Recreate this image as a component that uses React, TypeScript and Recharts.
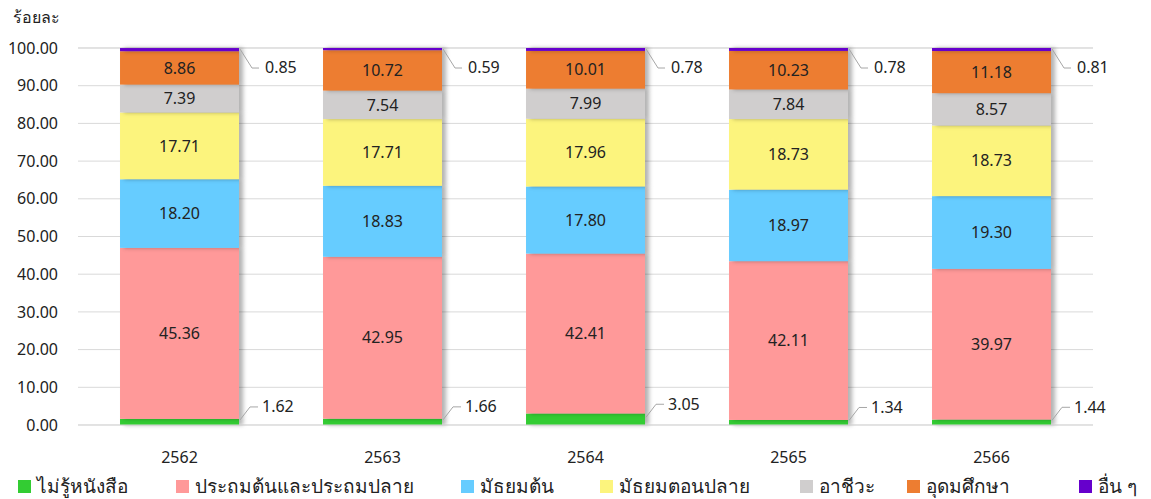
import React from 'react';
import {
  BarChart,
  Bar,
  XAxis,
  YAxis,
  CartesianGrid,
  LabelList
} from 'recharts';

const years = ['2562', '2563', '2564', '2565', '2566'];
const illiterate = [1.62, 1.66, 3.05, 1.34, 1.44];
const primary = [45.36, 42.95, 42.41, 42.11, 39.97];
const lowerSecondary = [18.2, 18.83, 17.8, 18.97, 19.3];
const upperSecondary = [17.71, 17.71, 17.96, 18.73, 18.73];
const vocational = [7.39, 7.54, 7.99, 7.84, 8.57];
const higherEd = [8.86, 10.72, 10.01, 10.23, 11.18];
const others = [0.85, 0.59, 0.78, 0.78, 0.81];
const yTicks = [0, 10, 20, 30, 40, 50, 60, 70, 80, 90, 100];

const series = [
  { key: 'illiterate', name: 'ไม่รู้หนังสือ', color: '#33CC33', values: illiterate },
  { key: 'primary', name: 'ประถมต้นและประถมปลาย', color: '#FF9999', values: primary },
  { key: 'lowerSecondary', name: 'มัธยมต้น', color: '#66CCFF', values: lowerSecondary },
  { key: 'upperSecondary', name: 'มัธยมตอนปลาย', color: '#FCF47D', values: upperSecondary },
  { key: 'vocational', name: 'อาชีวะ', color: '#D0CECE', values: vocational },
  { key: 'higherEd', name: 'อุดมศึกษา', color: '#ED7D31', values: higherEd },
  { key: 'others', name: 'อื่น ๆ', color: '#6600CC', values: others },
];

// legend swatch x positions in the original layout
const legendX = [18, 176, 461, 600, 800, 907, 1079];

const data = years.map((year, i) => {
  const row: Record<string, string | number> = { year };
  series.forEach((s) => {
    row[s.key] = s.values[i];
  });
  return row;
});

const FONT = "Tahoma, 'Noto Sans', sans-serif";

const ShadowBar = (props: any) => {
  const { x, y, width, height, fill } = props;
  return (
    <rect
      x={x}
      y={y}
      width={width}
      height={height}
      fill={fill}
      style={{ filter: 'drop-shadow(4px 0px 2px rgba(0,0,0,0.3))' }}
    />
  );
};

// callout label pointing down-right from the top of the bar (อื่น ๆ)
const TopCallout = (props: any) => {
  const { x, y, width, value } = props;
  const x0 = x + width + 1;
  const y0 = y + 1;
  return (
    <g>
      <polyline
        points={`${x0},${y0} ${x0 + 12},${y0 + 19} ${x0 + 19},${y0 + 19}`}
        fill="none"
        stroke="#A6A6A6"
        strokeWidth={1}
      />
      <text x={x0 + 25} y={y0 + 20} fontSize={16} fill="#222" dominantBaseline="middle" fontFamily={FONT}>
        {Number(value).toFixed(2)}
      </text>
    </g>
  );
};

// callout label pointing up-right from the bottom segment (ไม่รู้หนังสือ)
const BottomCallout = (props: any) => {
  const { x, y, width, height, value } = props;
  const x0 = x + width + 1;
  const y0 = y + height / 2 - 2;
  return (
    <g>
      <polyline
        points={`${x0},${y0} ${x0 + 10},${y0 - 13} ${x0 + 18},${y0 - 13}`}
        fill="none"
        stroke="#A6A6A6"
        strokeWidth={1}
      />
      <text x={x0 + 22} y={y0 - 12} fontSize={16} fill="#222" dominantBaseline="middle" fontFamily={FONT}>
        {Number(value).toFixed(2)}
      </text>
    </g>
  );
};

const App: React.FC = () => {
  return (
    <div style={{ position: 'absolute', left: 0, top: 0, width: 1151, height: 499, background: '#fff', fontFamily: FONT }}>
      <div style={{ position: 'absolute', left: 13, top: 5, fontSize: 16, color: '#222' }}>ร้อยละ</div>
      <BarChart
        width={1151}
        height={499}
        data={data}
        margin={{ top: 48, right: 58, bottom: 44, left: 0 }}
        barCategoryGap="20.7%"
      >
        <CartesianGrid vertical={false} stroke="#D9D9D9" />
        <XAxis
          dataKey="year"
          height={30}
          axisLine={{ stroke: '#D9D9D9' }}
          tickLine={false}
          tickSize={0}
          tickMargin={27}
          tick={{ fontSize: 16, fill: '#222', fontFamily: FONT }}
        />
        <YAxis
          width={78}
          domain={[0, 100]}
          ticks={yTicks}
          axisLine={false}
          tickLine={false}
          tickSize={0}
          tickMargin={20}
          tickFormatter={(v: number) => v.toFixed(2)}
          tick={{ fontSize: 16, fill: '#222', fontFamily: FONT }}
        />
        {series.map((s) => (
          <Bar
            key={s.key}
            dataKey={s.key}
            name={s.name}
            stackId="a"
            fill={s.color}
            shape={<ShadowBar />}
            isAnimationActive={false}
          >
            {s.key === 'illiterate' ? (
              <LabelList dataKey={s.key} content={<BottomCallout />} />
            ) : s.key === 'others' ? (
              <LabelList dataKey={s.key} content={<TopCallout />} />
            ) : (
              <LabelList
                dataKey={s.key}
                position="center"
                formatter={(v: any) => Number(v).toFixed(2)}
                style={{ fontSize: 16, fill: '#222', fontFamily: FONT }}
              />
            )}
          </Bar>
        ))}
      </BarChart>
      {series.map((s, i) => (
        <div
          key={s.key}
          style={{
            position: 'absolute',
            left: legendX[i],
            top: 474,
            height: 24,
            lineHeight: '24px',
            display: 'flex',
            alignItems: 'center',
            fontSize: 19,
            color: '#222',
            whiteSpace: 'nowrap'
          }}
        >
          <span style={{ width: 13, height: 13, background: s.color, display: 'inline-block', marginRight: 6 }} />
          <span>{s.name}</span>
        </div>
      ))}
    </div>
  );
};

export default App;
